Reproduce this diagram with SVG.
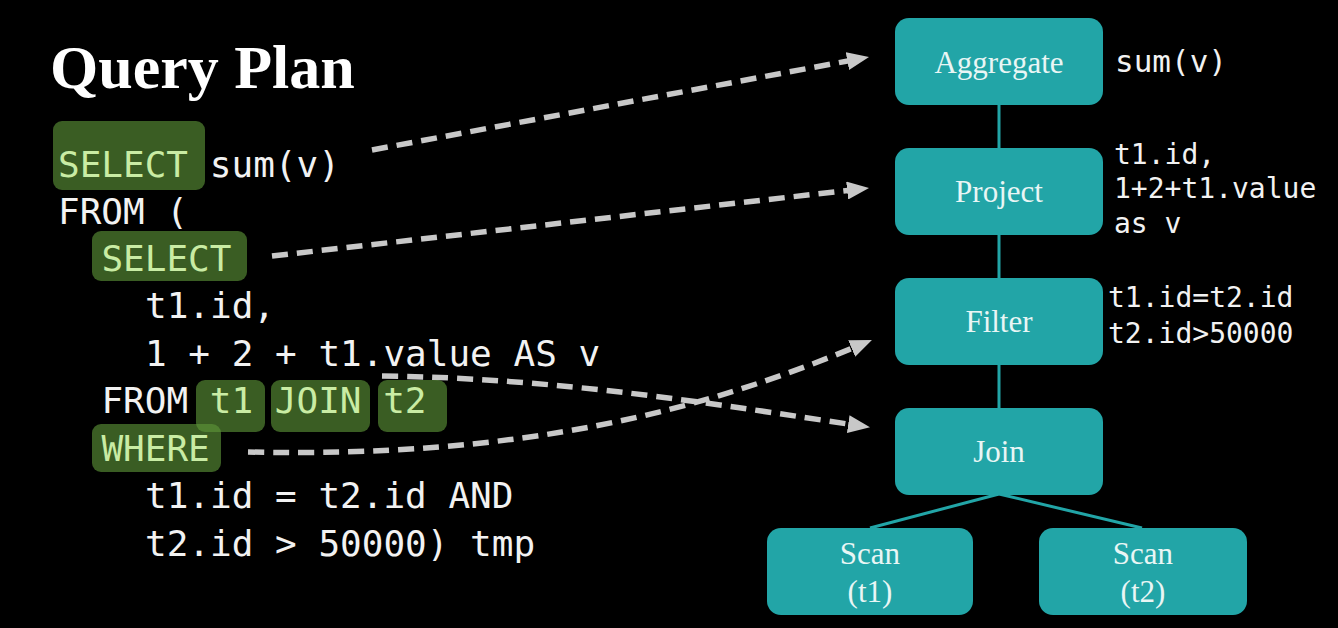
<svg xmlns="http://www.w3.org/2000/svg" width="1338" height="628" viewBox="0 0 1338 628">
<style>
.code{font-family:"DejaVu Sans Mono","Liberation Mono",monospace;font-size:36px;fill:#f2f2f2}
.kw{fill:#c9eca4}
.hl{fill:#5d9639;fill-opacity:0.62}
.ann{font-family:"DejaVu Sans Mono","Liberation Mono",monospace;font-size:28px;fill:#f2f2f2}
.big{font-size:31px}
.node rect{fill:#22a5a7}
.node text{font-family:"Liberation Serif","Times New Roman",serif;font-size:31px;fill:#e9f6f5;text-anchor:middle}
.tree{stroke:#22a5a7;stroke-width:3;fill:none}
.dash{stroke:#c8c8c8;stroke-width:5.5;stroke-dasharray:16 9;fill:none}
</style>
<defs>
<marker id="ah" markerUnits="userSpaceOnUse" markerWidth="22" markerHeight="18" viewBox="0 0 22 18" refX="10" refY="9" orient="auto">
<path d="M0,0 L22,9 L0,18 z" fill="#c8c8c8"/>
</marker>
</defs>
<rect width="1338" height="628" fill="#000"/>
<text x="50" y="88" font-family="Liberation Serif,'Times New Roman',serif" font-weight="bold" font-size="62" fill="#fff">Query Plan</text>

<g id="connectors">
<line class="tree" x1="999" y1="104" x2="999" y2="148"/>
<line class="tree" x1="999" y1="234" x2="999" y2="278"/>
<line class="tree" x1="999" y1="364" x2="999" y2="408"/>
<line class="tree" x1="999" y1="494" x2="870" y2="528"/>
<line class="tree" x1="999" y1="494" x2="1142" y2="528"/>
<path class="dash" d="M372,150 L857.2,59.2" marker-end="url(#ah)"/>
<path class="dash" d="M272,256 L857.1,189.4" marker-end="url(#ah)"/>
<path class="dash" d="M382,376 C560,378 720,405 858.1,425.5" marker-end="url(#ah)"/>
<path class="dash" d="M248,452 C520,458 700,412 860.9,344.6" marker-end="url(#ah)"/>
</g>

<g id="sql">
<rect class="hl" x="53" y="121" width="152" height="69" rx="9"/>
<rect class="hl" x="92" y="231" width="155" height="50" rx="9"/>
<rect class="hl" x="196" y="380" width="69" height="52" rx="9"/>
<rect class="hl" x="271" y="380" width="99" height="52" rx="9"/>
<rect class="hl" x="378" y="380" width="69" height="52" rx="9"/>
<rect class="hl" x="92" y="424" width="129" height="48" rx="9"/>
<text class="code kw" x="58" y="177">SELECT</text>
<text class="code" x="209.8" y="177">sum(v)</text>
<text class="code" x="58" y="224">FROM (</text>
<text class="code kw" x="101.4" y="271">SELECT</text>
<text class="code" x="145" y="318">t1.id,</text>
<text class="code" x="145" y="366">1 + 2 + t1.value AS v</text>
<text class="code" x="101.4" y="413">FROM</text>
<text class="code kw" x="209.8" y="413">t1</text>
<text class="code kw" x="274.8" y="413">JOIN</text>
<text class="code kw" x="383.2" y="413">t2</text>
<text class="code kw" x="101.4" y="461">WHERE</text>
<text class="code" x="145" y="508">t1.id = t2.id AND</text>
<text class="code" x="145" y="556">t2.id &gt; 50000) tmp</text>
</g>

<g id="aggregate" class="node">
<rect x="895" y="18" width="208" height="87" rx="14"/>
<text x="999" y="73">Aggregate</text>
</g>
<g id="project" class="node">
<rect x="895" y="148" width="208" height="87" rx="14"/>
<text x="999" y="202">Project</text>
</g>
<g id="filter" class="node">
<rect x="895" y="278" width="208" height="87" rx="14"/>
<text x="999" y="332">Filter</text>
</g>
<g id="join" class="node">
<rect x="895" y="408" width="208" height="87" rx="14"/>
<text x="999" y="462">Join</text>
</g>
<g id="scan-t1" class="node">
<rect x="767" y="528" width="206" height="87" rx="14"/>
<text x="870" y="564">Scan</text>
<text x="870" y="602">(t1)</text>
</g>
<g id="scan-t2" class="node">
<rect x="1039" y="528" width="208" height="87" rx="14"/>
<text x="1143" y="564">Scan</text>
<text x="1143" y="602">(t2)</text>
</g>

<g id="annotations">
<text class="ann big" x="1115" y="72">sum(v)</text>
<text class="ann" x="1114" y="164">t1.id,</text>
<text class="ann" x="1114" y="198">1+2+t1.value</text>
<text class="ann" x="1114" y="233">as v</text>
<text class="ann" x="1108" y="307">t1.id=t2.id</text>
<text class="ann" x="1108" y="343">t2.id&gt;50000</text>
</g>
</svg>
